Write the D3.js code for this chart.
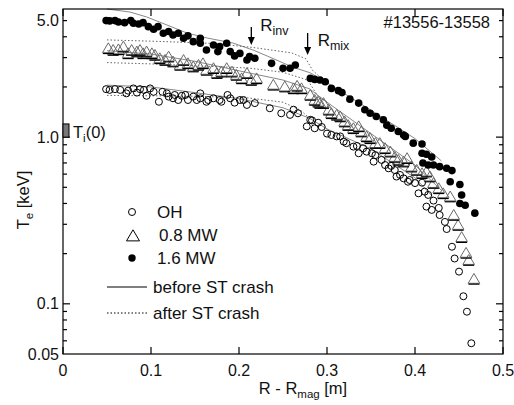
<!DOCTYPE html>
<html>
<head>
<meta charset="utf-8">
<script src="https://cdn.jsdelivr.net/npm/d3@7"></script>
<style>
body { margin: 0; background: #fff; }
text { font-family: Arial, "Liberation Sans", sans-serif; fill: #111; }
</style>
</head>
<body>
<div id="chart"></div>
<script>
// Te profiles, R - Rmag [m] vs Te [keV]
var ohPts = [[0.049,1.94],[0.053,1.92],[0.059,1.94],[0.065,1.92],[0.072,1.83],[0.074,1.90],[0.080,1.96],[0.084,1.85],[0.0875,1.94],[0.092,1.92],[0.095,1.77],[0.099,1.96],[0.103,1.87],[0.109,1.63],[0.113,1.87],[0.118,1.83],[0.120,1.75],[0.125,1.71],[0.127,1.79],[0.131,1.67],[0.135,1.77],[0.139,1.79],[0.142,1.67],[0.148,1.75],[0.152,1.67],[0.156,1.83],[0.156,1.71],[0.163,1.63],[0.165,1.67],[0.171,1.71],[0.178,1.67],[0.180,1.63],[0.187,1.79],[0.190,1.71],[0.195,1.61],[0.201,1.67],[0.205,1.67],[0.209,1.56],[0.218,1.60],[0.235,1.49],[0.248,1.39],[0.258,1.36],[0.262,1.46],[0.267,1.39],[0.277,1.16],[0.281,1.27],[0.283,1.26],[0.286,1.13],[0.290,1.22],[0.294,1.15],[0.300,1.05],[0.305,1.03],[0.311,1.01],[0.315,1.01],[0.319,0.94],[0.322,0.92],[0.330,0.877],[0.334,0.885],[0.336,0.80],[0.341,0.857],[0.345,0.818],[0.351,0.80],[0.355,0.78],[0.353,0.713],[0.362,0.73],[0.366,0.68],[0.370,0.65],[0.373,0.672],[0.377,0.635],[0.379,0.58],[0.383,0.593],[0.387,0.566],[0.392,0.54],[0.394,0.553],[0.400,0.53],[0.404,0.46],[0.408,0.533],[0.411,0.471],[0.415,0.45],[0.413,0.383],[0.419,0.366],[0.421,0.416],[0.427,0.376],[0.428,0.341],[0.434,0.31],[0.436,0.281],[0.442,0.22],[0.445,0.187],[0.450,0.156],[0.455,0.111],[0.459,0.0897],[0.464,0.058]];

var mw08Pts = [[0.0515,3.41],[0.057,3.33],[0.063,3.36],[0.0686,3.49],[0.074,3.18],[0.078,3.33],[0.084,3.26],[0.0875,3.33],[0.091,3.18],[0.095,3.26],[0.101,3.18],[0.1045,3.11],[0.110,2.97],[0.116,2.90],[0.120,3.04],[0.125,2.84],[0.133,2.71],[0.137,2.90],[0.142,2.77],[0.148,2.65],[0.154,2.71],[0.159,2.77],[0.163,2.53],[0.171,2.59],[0.175,2.42],[0.180,2.47],[0.186,2.59],[0.192,2.47],[0.197,2.36],[0.203,2.25],[0.209,2.42],[0.214,2.20],[0.220,2.25],[0.239,2.06],[0.252,2.01],[0.262,1.96],[0.266,2.03],[0.271,1.96],[0.281,1.79],[0.286,1.67],[0.290,1.63],[0.292,1.60],[0.296,1.60],[0.302,1.46],[0.305,1.39],[0.311,1.36],[0.315,1.33],[0.320,1.24],[0.324,1.18],[0.330,1.13],[0.336,1.16],[0.339,1.08],[0.345,1.01],[0.349,0.984],[0.355,0.92],[0.360,0.92],[0.366,0.857],[0.372,0.818],[0.377,0.76],[0.381,0.73],[0.387,0.713],[0.391,0.747],[0.396,0.665],[0.402,0.635],[0.408,0.607],[0.413,0.621],[0.417,0.58],[0.421,0.53],[0.427,0.493],[0.432,0.46],[0.440,0.44],[0.444,0.341],[0.449,0.297],[0.453,0.251],[0.458,0.202],[0.461,0.183],[0.467,0.141]];

var mw16Pts = [[0.049,5.0],[0.053,4.98],[0.059,5.0],[0.063,4.91],[0.070,4.86],[0.077,5.0],[0.080,4.82],[0.086,4.77],[0.091,4.86],[0.097,4.60],[0.103,4.44],[0.108,4.60],[0.114,4.20],[0.120,4.30],[0.125,4.10],[0.131,4.20],[0.137,3.92],[0.142,4.05],[0.148,3.74],[0.156,3.92],[0.156,3.66],[0.163,3.33],[0.171,3.57],[0.176,3.26],[0.178,3.49],[0.186,3.66],[0.190,3.26],[0.195,3.07],[0.201,3.18],[0.209,2.90],[0.212,3.04],[0.218,2.97],[0.237,2.77],[0.250,2.59],[0.258,2.59],[0.264,2.71],[0.281,2.25],[0.286,2.22],[0.292,2.20],[0.298,2.15],[0.305,1.96],[0.313,1.90],[0.317,1.85],[0.326,1.69],[0.336,1.60],[0.343,1.46],[0.349,1.39],[0.356,1.33],[0.364,1.27],[0.368,1.18],[0.373,1.13],[0.381,1.08],[0.387,1.03],[0.389,1.01],[0.398,0.92],[0.408,0.91],[0.408,0.80],[0.413,0.79],[0.419,0.76],[0.409,0.70],[0.415,0.68],[0.421,0.68],[0.428,0.665],[0.436,0.65],[0.442,0.63],[0.440,0.54],[0.451,0.52],[0.453,0.45],[0.451,0.40],[0.457,0.39],[0.468,0.35]];

// fitted profiles, before (solid) and after (dotted) the sawtooth crash
var mw16Before = [[0.050,5.87],[0.076,5.63],[0.095,5.26],[0.118,4.71],[0.141,4.21],[0.164,3.93],[0.193,3.67],[0.216,3.33],[0.235,3.02],[0.261,2.63],[0.281,2.43],[0.30,2.12],[0.35,1.45],[0.40,0.98],[0.43,0.72]];
var mw16After = [[0.050,3.83],[0.11,3.75],[0.17,3.65],[0.216,3.45],[0.26,3.2],[0.276,2.95],[0.284,2.5],[0.30,2.12]];
var mw08Before = [[0.050,3.3],[0.10,3.15],[0.15,2.85],[0.20,2.5],[0.25,2.2],[0.28,1.95],[0.30,1.62],[0.35,1.05],[0.40,0.68],[0.43,0.48]];
var mw08After = [[0.050,2.8],[0.10,2.75],[0.15,2.68],[0.21,2.6],[0.25,2.45],[0.278,2.2],[0.29,1.75],[0.30,1.62]];
var ohBefore = [[0.050,2.05],[0.10,2.0],[0.15,1.85],[0.20,1.7],[0.25,1.5],[0.28,1.3],[0.30,1.12],[0.35,0.85],[0.40,0.57],[0.42,0.44]];
var ohAfter = [[0.050,1.78],[0.15,1.76],[0.21,1.72],[0.25,1.62],[0.27,1.45],[0.28,1.3]];

var xTicks = [0, 0.1, 0.2, 0.3, 0.4, 0.5];
var yMajor = [0.1, 1];
var yMinor = [0.06,0.07,0.08,0.09,0.2,0.3,0.4,0.5,0.6,0.7,0.8,0.9,2,3,4,5];
var yLabels = [[0.05,"0.05"],[0.1,"0.1"],[1,"1.0"],[5,"5.0"]];
var rInv = 0.214, rMix = 0.278;
var ti0 = [1.0, 1.2];

var W = 514, H = 405;
var svg = d3.select("#chart").append("svg").attr("width", W).attr("height", H);

var x = d3.scaleLinear().domain([0, 0.5]).range([63, 503]);
var y = d3.scaleLog().domain([0.05, 5.87]).range([354, 9]);

var line = d3.line().x(function(d){ return x(d[0]); }).y(function(d){ return y(d[1]); });

// profile lines
[mw16Before, mw08Before, ohBefore].forEach(function(p){
  svg.append("path").attr("d", line(p)).attr("fill","none").attr("stroke","#888").attr("stroke-width",1);
});
[mw16After, mw08After, ohAfter].forEach(function(p){
  svg.append("path").attr("d", line(p)).attr("fill","none").attr("stroke","#666").attr("stroke-width",1).attr("stroke-dasharray","1.5,2");
});

// OH open circles
svg.append("g").selectAll("circle").data(ohPts).enter().append("circle")
  .attr("cx", function(d){ return x(d[0]); })
  .attr("cy", function(d){ return y(d[1]); })
  .attr("r", 3.5).attr("fill","none").attr("stroke","#000").attr("stroke-width",1);

// 0.8 MW triangles
function tri(cx, cy, s) {
  return "M" + (cx - s) + "," + (cy + s*0.75) + "L" + cx + "," + (cy - s*0.95) + "L" + (cx + s) + "," + (cy + s*0.75) + "Z";
}
var tg = svg.append("g");
tg.selectAll("path.t").data(mw08Pts).enter().append("path")
  .attr("class","t")
  .attr("d", function(d){ return tri(x(d[0]), y(d[1]), 5.8); })
  .attr("fill","none").attr("stroke","#6a6a6a").attr("stroke-width",1);
tg.selectAll("line").data(mw08Pts).enter().append("line")
  .attr("x1", function(d){ return x(d[0]) - 5.5; })
  .attr("x2", function(d){ return x(d[0]) + 5.5; })
  .attr("y1", function(d){ return y(d[1]) + 5.2; })
  .attr("y2", function(d){ return y(d[1]) + 5.2; })
  .attr("stroke","#000").attr("stroke-width",1.2);

// 1.6 MW filled circles
svg.append("g").selectAll("circle").data(mw16Pts).enter().append("circle")
  .attr("cx", function(d){ return x(d[0]); })
  .attr("cy", function(d){ return y(d[1]); })
  .attr("r", 3.8).attr("fill","#000");

// frame and ticks
var ax = svg.append("g").attr("stroke","#000").attr("stroke-width",1.2);
ax.append("rect").attr("x", x(0)).attr("y", y(5.87)).attr("width", x(0.5) - x(0)).attr("height", y(0.05) - y(5.87)).attr("fill","none");
xTicks.forEach(function(t){
  ax.append("line").attr("x1", x(t)).attr("x2", x(t)).attr("y1", y(0.05)).attr("y2", y(0.05) - 7);
  ax.append("line").attr("x1", x(t)).attr("x2", x(t)).attr("y1", y(5.87)).attr("y2", y(5.87) + 7);
});
yMajor.forEach(function(t){
  ax.append("line").attr("x1", x(0)).attr("x2", x(0) + 7).attr("y1", y(t)).attr("y2", y(t));
  ax.append("line").attr("x1", x(0.5)).attr("x2", x(0.5) - 7).attr("y1", y(t)).attr("y2", y(t));
});
yMinor.forEach(function(t){
  ax.append("line").attr("x1", x(0)).attr("x2", x(0) + 4).attr("y1", y(t)).attr("y2", y(t));
  ax.append("line").attr("x1", x(0.5)).attr("x2", x(0.5) - 4).attr("y1", y(t)).attr("y2", y(t));
});

// tick labels
svg.append("g").selectAll("text").data(xTicks).enter().append("text")
  .attr("x", function(d){ return x(d); }).attr("y", 376)
  .attr("text-anchor","middle").attr("font-size",16)
  .text(function(d){ return d === 0 ? "0" : d.toString(); });
svg.append("g").selectAll("text").data(yLabels).enter().append("text")
  .attr("x", x(0) - 4).attr("y", function(d){ return y(d[0]) + 5.5; })
  .attr("text-anchor","end").attr("font-size",16)
  .text(function(d){ return d[1]; });

// axis titles
var xt = svg.append("text").attr("x", 303).attr("y", 394).attr("text-anchor","middle").attr("font-size",16.5);
xt.append("tspan").text("R - R");
xt.append("tspan").attr("font-size",11.5).attr("dy",4).text("mag");
xt.append("tspan").attr("dy",-4).text("  [m]");

var yt = svg.append("text").attr("transform","translate(29,200) rotate(-90)").attr("text-anchor","middle").attr("font-size",16.5);
yt.append("tspan").text("T");
yt.append("tspan").attr("font-size",11.5).attr("dy",4).text("e");
yt.append("tspan").attr("dy",-4).text("  [keV]");

// shot number
svg.append("text").attr("x", 490).attr("y", 28).attr("text-anchor","end").attr("font-size",16.5).text("#13556-13558");

// Ti(0) marker
svg.append("rect").attr("x", x(0)).attr("y", y(ti0[1])).attr("width", 6).attr("height", y(ti0[0]) - y(ti0[1]))
  .attr("fill","#777").attr("stroke","#000").attr("stroke-width",1);
var tt = svg.append("text").attr("x", x(0) + 10).attr("y", y(1.0) + 1).attr("font-size",16.5);
tt.append("tspan").text("T");
tt.append("tspan").attr("font-size",11.5).attr("dy",4).text("i");
tt.append("tspan").attr("dy",-4).text("(0)");

// R_inv and R_mix arrows
function arrow(xv, top, tip) {
  var cx = x(xv);
  svg.append("line").attr("x1", cx).attr("x2", cx).attr("y1", top).attr("y2", tip - 6).attr("stroke","#000").attr("stroke-width",1.3);
  svg.append("path").attr("d", "M" + (cx - 3.5) + "," + (tip - 8) + "L" + (cx + 3.5) + "," + (tip - 8) + "L" + cx + "," + tip + "Z").attr("fill","#000");
}
arrow(rInv, 27, 45);
arrow(rMix, 33, 55);
var ri = svg.append("text").attr("x", x(rInv) + 9).attr("y", 31).attr("font-size",17);
ri.append("tspan").text("R");
ri.append("tspan").attr("font-size",12.5).attr("dy",4).text("inv");
var rm = svg.append("text").attr("x", x(rMix) + 10).attr("y", 46).attr("font-size",17);
rm.append("tspan").text("R");
rm.append("tspan").attr("font-size",12.5).attr("dy",4).text("mix");

// legend
var lg = svg.append("g");
lg.append("circle").attr("cx",132).attr("cy",212).attr("r",3.5).attr("fill","none").attr("stroke","#000");
lg.append("path").attr("d", tri(133, 236, 6.5)).attr("fill","none").attr("stroke","#000");
lg.append("circle").attr("cx",132).attr("cy",258).attr("r",3.7).attr("fill","#000");
lg.append("line").attr("x1",107).attr("x2",147).attr("y1",287).attr("y2",287).attr("stroke","#000").attr("stroke-width",1.2);
lg.append("line").attr("x1",107).attr("x2",147).attr("y1",313).attr("y2",313).attr("stroke","#000").attr("stroke-width",1).attr("stroke-dasharray","1.5,2");
[["OH",157,218],["0.8 MW",159,241],["1.6 MW",157,264],["before ST crash",153,293],["after ST crash",153,319]].forEach(function(d){
  lg.append("text").attr("x", d[1]).attr("y", d[2]).attr("font-size",17).text(d[0]);
});
</script>
</body>
</html>
